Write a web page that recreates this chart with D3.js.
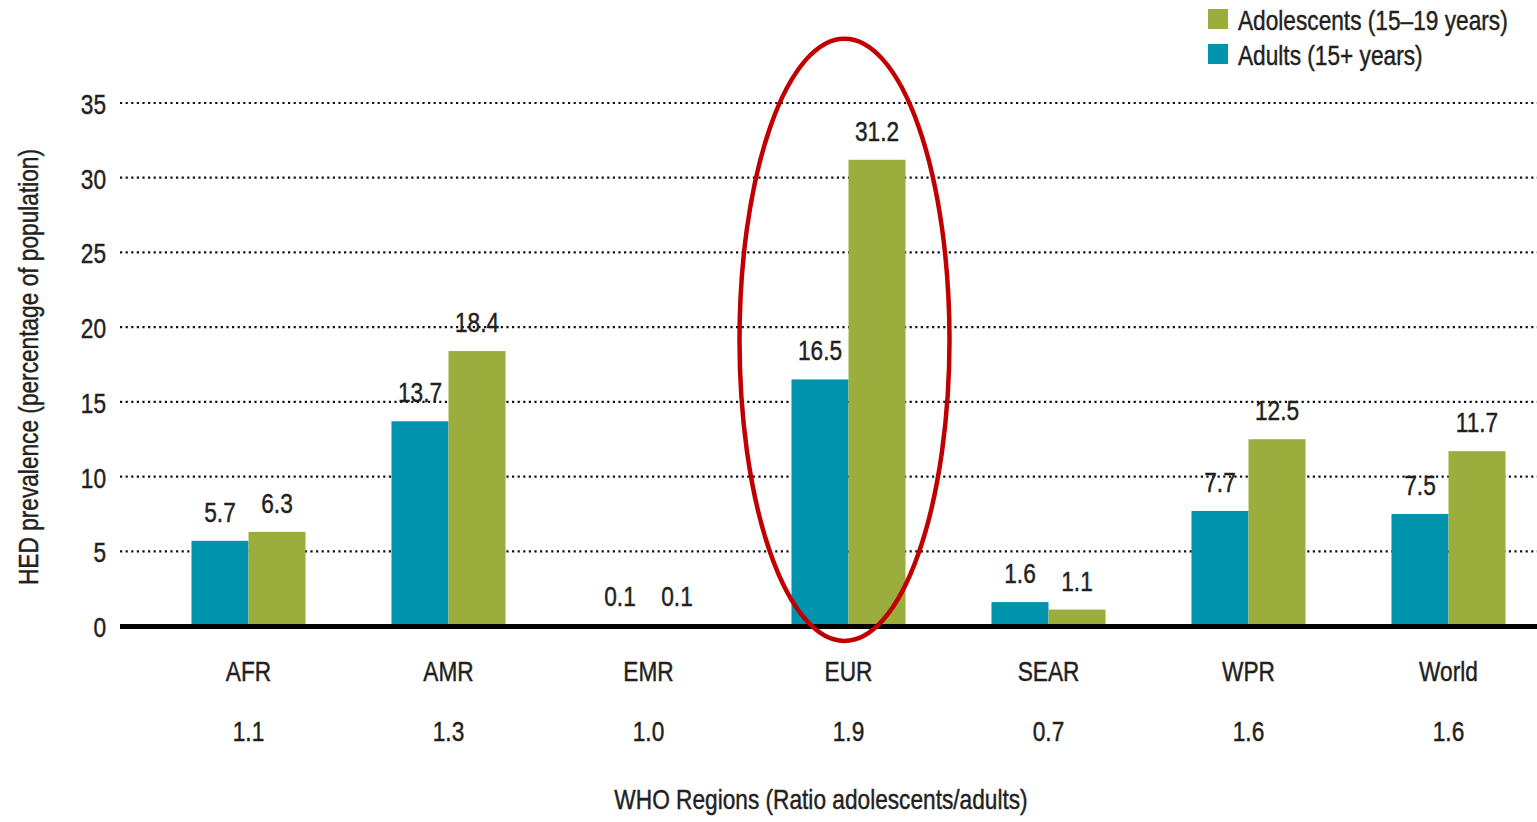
<!DOCTYPE html>
<html>
<head>
<meta charset="utf-8">
<script src="https://cdn.jsdelivr.net/npm/d3@7"></script>
<style>
  html, body { margin: 0; padding: 0; background: #fff; }
  svg { display: block; }
  text { font-family: "Liberation Sans", Arial, sans-serif; font-size: 28px; fill: #231f20; stroke: #231f20; stroke-width: 0.45px; }
</style>
</head>
<body>
<svg id="chart" width="1537" height="822"></svg>
<script>
// Heavy episodic drinking prevalence by WHO region
const regions = ["AFR", "AMR", "EMR", "EUR", "SEAR", "WPR", "World"];
const ratios = ["1.1", "1.3", "1.0", "1.9", "0.7", "1.6", "1.6"];
const adults = [5.7, 13.7, 0.1, 16.5, 1.6, 7.7, 7.5];
const adolescents = [6.3, 18.4, 0.1, 31.2, 1.1, 12.5, 11.7];
const yTicks = [0, 5, 10, 15, 20, 25, 30, 35];
const seriesNames = ["Adults (15+ years)", "Adolescents (15–19 years)"];
const highlighted = "EUR";

const colors = { adults: "#0093ad", adolescents: "#9bad3d" };

// condensed lettering: squeeze glyphs horizontally
const SX = 0.81;
const place = (px, py) => `translate(${px},${py}) scale(${SX},1)`;

const svg = d3.select("#chart");

const x = d3.scaleBand().domain(regions).range([148.5, 1548.5]).padding(0);
const sub = d3.scaleBand().domain(["adults", "adolescents"])
  .range([0, x.bandwidth()]).paddingInner(0).paddingOuter(0.754);
const y = d3.scaleLinear().domain([0, 35]).range([626, 103]);

const rows = regions.map((r, i) => ({
  region: r, ratio: ratios[i], adults: adults[i], adolescents: adolescents[i]
}));

// dotted gridlines
svg.append("g").selectAll("line")
  .data(yTicks.filter(d => d > 0))
  .join("line")
  .attr("x1", 120).attr("x2", 1537)
  .attr("y1", d => y(d)).attr("y2", d => y(d))
  .attr("stroke", "#111")
  .attr("stroke-width", 2.2)
  .attr("stroke-dasharray", "2.2,3.4");

// y axis tick labels
const yAxis = d3.axisLeft(y).tickValues(yTicks).tickSize(0).tickPadding(0);
const yg = svg.append("g").attr("transform", "translate(106,0)").call(yAxis);
yg.select(".domain").remove();
yg.attr("font-family", null).attr("font-size", null);
yg.selectAll("text")
  .attr("x", 0).attr("dy", null).attr("y", 0)
  .attr("fill", "#231f20")
  .attr("transform", place(0, 10.5));

// bars
const groups = svg.append("g").selectAll("g")
  .data(rows).join("g")
  .attr("transform", d => `translate(${x(d.region)},0)`);

const pairs = d => ["adults", "adolescents"].map(k => ({ key: k, value: d[k] }));

groups.selectAll("rect")
  .data(pairs)
  .join("rect")
  .attr("x", d => sub(d.key))
  .attr("width", sub.bandwidth())
  .attr("y", d => y(d.value))
  .attr("height", d => y(0) - y(d.value))
  .attr("fill", d => colors[d.key]);

// value labels
groups.selectAll("text.val")
  .data(pairs)
  .join("text")
  .attr("class", "val")
  .attr("text-anchor", "middle")
  .attr("transform", d => place(sub(d.key) + sub.bandwidth() / 2, y(d.value) - 19))
  .text(d => d3.format(".1f")(d.value));

// baseline
svg.append("line")
  .attr("x1", 120).attr("x2", 1537)
  .attr("y1", y(0) + 0.5).attr("y2", y(0) + 0.5)
  .attr("stroke", "#000").attr("stroke-width", 5);

// category labels and ratios
const cats = svg.append("g").selectAll("g")
  .data(rows).join("g")
  .attr("transform", d => `translate(${x(d.region) + x.bandwidth() / 2},0)`);
cats.append("text")
  .attr("text-anchor", "middle")
  .attr("transform", place(0, 681))
  .text(d => d.region);
cats.append("text")
  .attr("text-anchor", "middle")
  .attr("transform", place(0, 741))
  .text(d => d.ratio);

// axis titles
svg.append("text")
  .attr("text-anchor", "middle")
  .attr("transform", place(821, 809))
  .text("WHO Regions (Ratio adolescents/adults)");

svg.append("text")
  .attr("text-anchor", "middle")
  .attr("transform", `translate(38,367) rotate(-90) scale(${SX},1)`)
  .text("HED prevalence (percentage of population)");

// legend
const legendItems = [
  { key: "adolescents", label: seriesNames[1] },
  { key: "adults", label: seriesNames[0] }
];
const legend = svg.append("g").selectAll("g")
  .data(legendItems).join("g")
  .attr("transform", (d, i) => `translate(1208,${9 + i * 35})`);
legend.append("rect")
  .attr("width", 20).attr("height", 20)
  .attr("fill", d => colors[d.key]);
legend.append("text")
  .attr("transform", place(30, 20.5))
  .text(d => d.label);

// highlight ring around the EUR group
const cx = x(highlighted) + x.bandwidth() / 2 - 4;
svg.append("ellipse")
  .attr("cx", cx)
  .attr("cy", y(19.15))
  .attr("rx", 105)
  .attr("ry", y(0) - y(20.15))
  .attr("fill", "none")
  .attr("stroke", "#c00000")
  .attr("stroke-width", 4.5);
</script>
</body>
</html>
